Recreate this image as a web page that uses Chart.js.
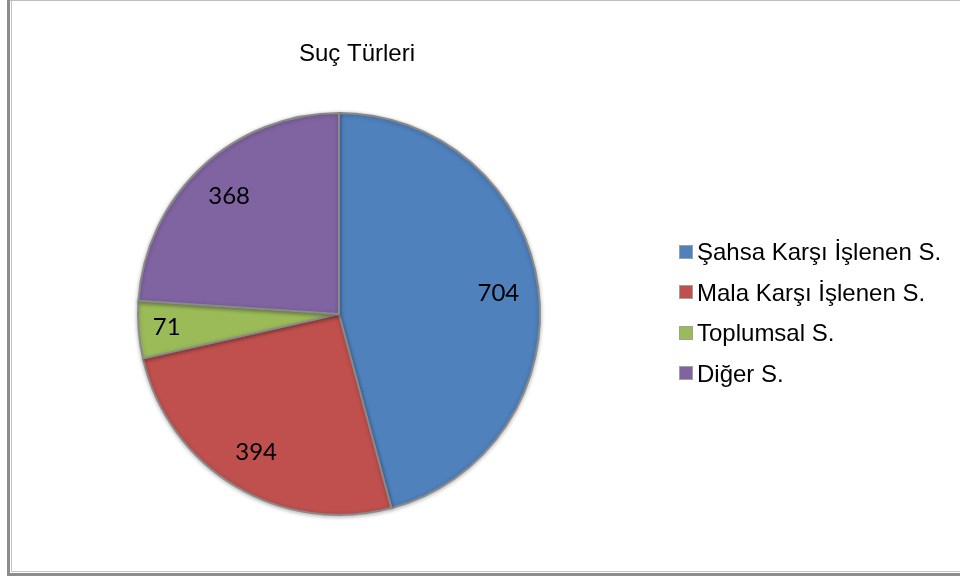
<!DOCTYPE html>
<html lang="tr">
<head>
<meta charset="utf-8">
<title>Suç Türleri</title>
<script src="https://cdn.jsdelivr.net/npm/chart.js@4.4.1/dist/chart.umd.min.js"></script>
<style>
  html, body { margin: 0; padding: 0; background: #ffffff; }
  #wrap { position: relative; width: 960px; height: 581px; }
  canvas { display: block; }
</style>
</head>
<body>
<div id="wrap"><canvas id="chart" width="960" height="581"></canvas></div>
<script>
// Crime categories and their counts
const chartTitle = 'Suç Türleri';
const categories = ['Şahsa Karşı İşlenen S.', 'Mala Karşı İşlenen S.', 'Toplumsal S.', 'Diğer S.'];
const counts = [704, 394, 71, 368];
const sliceColors = ['#4F81BD', '#C0504D', '#9BBB59', '#8064A2'];

// Outer frame of the chart sheet
const framePlugin = {
  id: 'frame',
  beforeDraw(chart) {
    const ctx = chart.ctx;
    ctx.save();
    ctx.fillStyle = '#ffffff';
    ctx.fillRect(0, 0, chart.width, chart.height);
    ctx.fillStyle = '#bdbdbd';
    ctx.fillRect(7, 0, chart.width - 7, 1);
    ctx.fillStyle = '#8c8c8c';
    ctx.fillRect(7, 0, 3, 576);
    ctx.fillRect(7, 573, chart.width - 7, 3);
    ctx.fillStyle = '#c4c4c4';
    ctx.fillRect(11, 1, 1, 571);
    ctx.fillRect(11, 571, chart.width - 11, 1);
    ctx.restore();
  }
};

// Soft shadow under the pie
const shadowPlugin = {
  id: 'pieShadow',
  beforeDatasetsDraw(chart) {
    const ctx = chart.ctx;
    ctx.save();
    ctx.shadowColor = 'rgba(0,0,0,0.28)';
    ctx.shadowBlur = 4;
    ctx.shadowOffsetX = 0;
    ctx.shadowOffsetY = 1;
  },
  afterDatasetsDraw(chart) {
    chart.ctx.restore();
  }
};

// Title, value labels inside the slices and the legend on the right
const textPlugin = {
  id: 'texts',
  afterDraw(chart) {
    const ctx = chart.ctx;
    ctx.save();

    ctx.fillStyle = '#000000';
    ctx.font = '24px "Liberation Sans", Arial, sans-serif';
    ctx.textAlign = 'center';
    ctx.textBaseline = 'alphabetic';
    ctx.fillText(chartTitle, 357, 61);

    // values on each slice's mid-angle, narrow slices pushed a bit further out
    const meta = chart.getDatasetMeta(0);
    ctx.font = '24px Lato, "Open Sans", sans-serif';
    ctx.textBaseline = 'middle';
    meta.data.forEach((arc, i) => {
      const p = arc.getProps(['x', 'y', 'startAngle', 'endAngle', 'outerRadius'], true);
      const span = p.endAngle - p.startAngle;
      const mid = (p.startAngle + p.endAngle) / 2;
      const r = p.outerRadius * (span < 0.5 ? 0.86 : 0.8);
      ctx.fillText(String(counts[i]), p.x + Math.cos(mid) * r, p.y + Math.sin(mid) * r);
    });

    // legend
    ctx.font = '24px "Liberation Sans", Arial, sans-serif';
    ctx.textAlign = 'left';
    ctx.textBaseline = 'alphabetic';
    const firstBaseline = 260;
    const rowGap = 40.6;
    categories.forEach((name, i) => {
      const base = firstBaseline + i * rowGap;
      const size = 14;
      const bx = 679, by = Math.round(base - 8.5 - size / 2);
      ctx.fillStyle = sliceColors[i];
      ctx.fillRect(bx, by, size, size);
      ctx.strokeStyle = '#a0a0a0';
      ctx.lineWidth = 1;
      ctx.strokeRect(bx + 0.5, by + 0.5, size - 1, size - 1);
      ctx.fillStyle = '#000000';
      ctx.fillText(name, 697, base);
    });

    ctx.restore();
  }
};

new Chart(document.getElementById('chart'), {
  type: 'pie',
  data: {
    labels: categories,
    datasets: [{
      data: counts,
      backgroundColor: sliceColors,
      borderColor: '#8a8a8a',
      borderWidth: 2,
      hoverOffset: 0
    }]
  },
  options: {
    responsive: false,
    animation: false,
    radius: 201,
    layout: { padding: { left: 130, right: 412, top: 105, bottom: 58 } },
    plugins: {
      legend: { display: false },
      title: { display: false },
      tooltip: { enabled: false }
    }
  },
  plugins: [framePlugin, shadowPlugin, textPlugin]
});
</script>
</body>
</html>
